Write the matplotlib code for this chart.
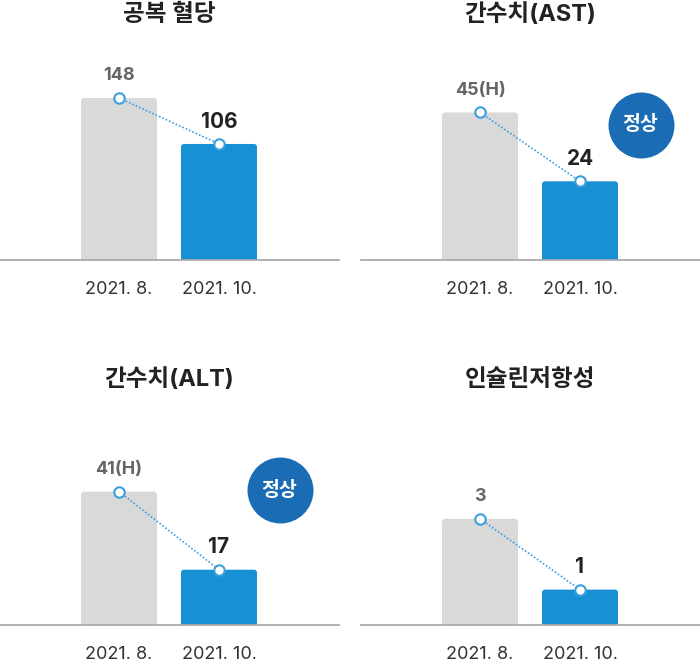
import matplotlib
matplotlib.use("Agg")
import matplotlib.pyplot as plt
from matplotlib.patches import FancyBboxPatch

plt.rcParams['font.family'] = ['Inter', 'Noto Sans CJK KR', 'DejaVu Sans']

titles = ["공복 혈당", "간수치(AST)", "간수치(ALT)", "인슐린저항성"]
periods = ["2021. 8.", "2021. 10."]
before = [148, 45, 41, 3]
after = [106, 24, 17, 1]
before_labels = ["148", "45(H)", "41(H)", "3"]
after_labels = ["106", "24", "17", "1"]
badges = [None, "정상", "정상", None]
ylim_top = [182.7, 61.0, 61.5, 5.65]

GRAY = "#d9d9d9"
BLUE = "#1890d4"
BADGE = "#1a6db5"
LINE = "#3a9fdc"

W, H = 700, 665
fig = plt.figure(figsize=(W / 100, H / 100), dpi=100)

# pixel layout of the 2x2 grid
lefts = [0, 361, 0, 361]
baselines = [260, 260, 625, 625]
ax_w, ax_h = 339, 200

for i in range(4):
    ax = fig.add_axes([lefts[i] / W, (H - baselines[i]) / H, ax_w / W, ax_h / H])
    xs = [0, 1]
    vals = [before[i], after[i]]
    ax.set_xlim(-1.19, 2.20)
    ax.set_ylim(0, ylim_top[i])

    # bars with slightly rounded top corners
    bars = ax.bar(xs, vals, width=0.76, color=[GRAY, BLUE], zorder=2)
    px_x = 0.01                      # data units per pixel in x
    px_y = ylim_top[i] / ax_h        # data units per pixel in y
    r = 3 * px_x
    for b in bars:
        x0, w, h = b.get_x(), b.get_width(), b.get_height()
        ax.add_patch(FancyBboxPatch((x0, -4 * px_y), w, h + 4 * px_y,
                                    boxstyle=f"round,pad=0,rounding_size={r}",
                                    mutation_aspect=px_y / px_x,
                                    fc=b.get_facecolor(), ec="none", zorder=2))
        b.remove()

    ax.plot(xs, vals, linestyle=(0, (1, 1.2)), color=LINE, lw=1.2, zorder=3)
    ax.plot(xs, vals, linestyle="none", marker="o", ms=7.5, mfc="white",
            mec=LINE, mew=1.5, zorder=4, clip_on=False)
    ax.annotate(before_labels[i], (0, before[i]), xytext=(0, 16),
                textcoords="offset points", ha="center", va="center",
                fontsize=13, fontweight="bold", color="#666666")
    ax.annotate(after_labels[i], (1, after[i]), xytext=(0, 16),
                textcoords="offset points", ha="center", va="center",
                fontsize=15, fontweight="bold", color="#222222")
    ax.set_xticks(xs)
    ax.set_xticklabels(periods, fontsize=13, color="#333333")
    ax.tick_params(axis="x", length=0, pad=15)
    ax.set_yticks([])
    for s in ["top", "left", "right"]:
        ax.spines[s].set_visible(False)
    ax.spines["bottom"].set_color("#aaaaaa")
    ax.spines["bottom"].set_linewidth(1.3)
    ax.spines["bottom"].set_zorder(5)
    ax.text(0.5, 1.225, titles[i], transform=ax.transAxes, ha="center",
            va="center", fontsize=17, fontweight="bold", color="#222222")
    if badges[i]:
        ax.scatter([0.825], [0.675], s=2256, color=BADGE, transform=ax.transAxes,
                   zorder=5, clip_on=False, linewidths=0)
        ax.text(0.825, 0.675, badges[i], transform=ax.transAxes, ha="center",
                va="center", fontsize=14, fontweight="bold", color="white", zorder=6)

fig.savefig("out.png", dpi=100)
